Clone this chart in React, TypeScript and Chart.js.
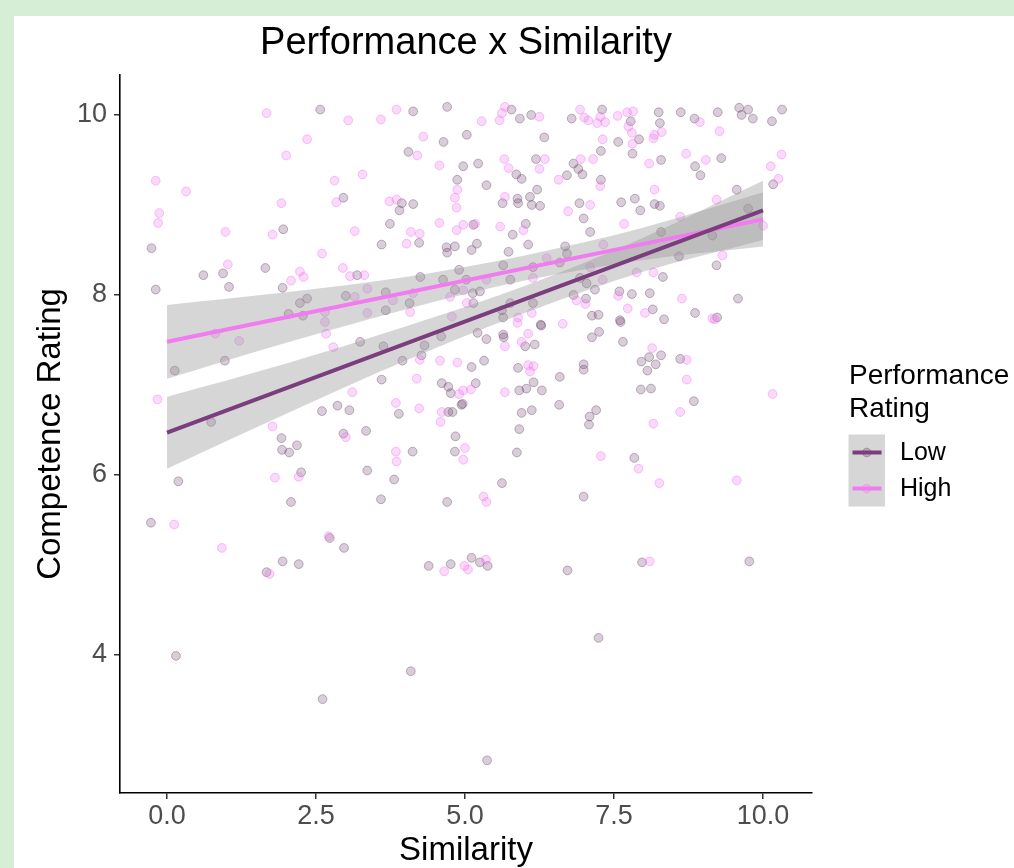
import { useEffect, useRef } from 'react';
import { Chart, registerables } from 'chart.js';
Chart.register(...registerables);

const TITLE = 'Performance x Similarity';
const X_LABEL = 'Similarity';
const Y_LABEL = 'Competence Rating';
const LEGEND_TITLE = ['Performance', 'Rating'];
const GROUPS = ['Low', 'High'];
const X_TICKS = [0, 2.5, 5, 7.5, 10];
const Y_TICKS = [4, 6, 8, 10];

const lowPoints: number[][] = [
  [2.57,10.06],[4.13,10.04],[4.70,10.09],[5.03,9.78],[4.64,9.70],[4.05,9.59],[4.97,9.43],[4.87,9.28],[2.96,9.08],[3.94,9.02],
  [3.90,8.94],[4.13,9.01],[1.95,8.73],[3.74,8.79],[-0.26,8.52],[3.60,8.56],[4.23,8.58],[4.69,8.53],[4.70,8.47],[4.83,8.54],
  [0.61,8.22],[0.94,8.24],[1.65,8.30],[3.19,8.22],[-0.19,8.06],[1.04,8.09],[1.94,8.08],[4.25,8.20],[4.63,8.17],[4.90,8.28],
  [2.23,7.91],[2.35,7.96],[3.00,7.99],[3.67,8.03],[4.07,7.91],[4.83,8.06],[3.67,7.83],[2.04,7.79],[2.28,7.77],
  [0.13,7.16],[0.97,7.27],[3.24,7.48],[3.63,7.43],[4.32,7.44],[4.27,7.33],[3.95,7.27],[4.60,7.54],[0.74,6.59],[3.60,7.06],
  [2.60,6.71],[2.86,6.77],[3.06,6.72],[3.89,6.68],[4.61,7.02],[4.72,6.98],[4.76,6.91],[4.72,6.70],[4.79,6.70],[4.94,6.78],
  [4.84,6.43],[4.83,6.26],[1.92,6.41],[1.93,6.28],[2.05,6.25],[2.18,6.33],[2.96,6.46],[3.34,6.49],[4.12,6.26],[2.25,6.03],
  [3.36,6.05],[3.81,5.95],[0.19,5.93],[2.08,5.70],[3.59,5.73],[4.70,5.70],[-0.27,5.47],[2.73,5.30],[2.97,5.19],
  [1.94,5.04],[2.21,5.01],[1.67,4.92],[4.39,4.99],[4.76,5.01],[5.11,5.08],[5.25,5.03],[5.38,4.99],[6.72,4.94],[7.97,5.03],
  [9.77,5.04],[7.24,4.19],[0.15,3.99],[4.09,3.82],[2.61,3.51],[5.37,2.83],
  [5.78,10.06],[5.92,9.96],[6.11,10.00],[6.79,9.96],[7.30,10.06],[7.78,9.93],[8.27,9.91],[8.25,10.03],[8.62,10.03],[8.85,9.96],
  [9.24,10.03],[9.60,10.08],[9.75,10.06],[9.64,10.00],[9.83,9.96],[10.15,9.93],[10.32,10.06],[6.33,9.75],[7.28,9.60],[7.57,9.70],
  [7.92,9.73],[7.81,9.57],[8.29,9.50],[8.86,9.43],[8.95,9.33],[9.30,9.52],[10.17,9.23],[5.22,9.46],[5.86,9.34],[5.95,9.29],
  [6.19,9.51],[5.36,9.22],[6.71,9.33],[6.82,9.46],[6.90,9.40],[6.97,9.34],[7.28,9.28],[6.21,9.17],[5.63,9.02],[5.88,9.07],
  [5.89,9.02],[6.09,9.09],[6.12,9.00],[6.26,8.99],[6.02,8.79],[5.80,8.67],[5.14,8.78],[5.20,8.57],[5.11,8.50],[5.73,8.48],
  [6.06,8.56],[5.64,8.33],[5.76,8.17],[6.14,8.31],[6.68,8.54],[6.71,8.46],[6.99,8.85],[6.92,9.02],[7.10,8.70],[7.62,9.03],
  [7.85,9.07],[7.94,8.94],[8.18,9.01],[8.27,8.99],[8.29,8.70],[9.56,9.17],[9.75,8.96],[9.15,8.66],[9.22,8.33],[8.59,8.43],
  [8.32,8.20],[8.10,8.02],[7.80,8.01],[7.59,8.04],[8.86,7.80],[9.23,7.75],[9.58,7.96],[8.15,7.84],[7.04,8.13],[7.18,8.06],
  [6.82,8.00],[7.03,7.96],[6.93,8.19],[7.13,7.77],[7.24,7.78],[7.60,7.72],[6.59,8.36],[5.76,7.91],[5.62,7.83],[5.64,7.75],
  [6.27,7.67],[5.25,8.04],[5.13,8.02],[5.14,7.91],[5.02,8.17],
  [6.14,7.91],[8.34,7.73],[5.21,7.58],[5.36,7.51],[5.64,7.56],[5.65,7.53],[6.28,7.66],[6.01,7.43],[6.17,7.45],[7.13,7.53],
  [7.25,7.59],[7.61,7.70],[7.65,7.48],[5.11,7.20],[5.32,7.27],[5.89,7.19],[6.59,7.09],[6.99,7.23],[6.99,7.17],[7.96,7.26],
  [8.09,7.31],[8.20,7.23],[8.29,7.33],[8.06,7.16],[8.61,7.29],[8.84,6.82],[5.18,7.02],[5.91,6.94],[6.03,6.96],[6.15,7.03],
  [6.29,6.94],[4.96,6.79],[7.95,6.95],[8.12,6.96],[5.95,6.69],[6.12,6.72],[6.58,6.78],[7.20,6.72],[7.09,6.65],[7.08,6.56],
  [5.91,6.51],[5.87,6.25],[7.84,6.19],[5.62,5.91],[6.99,5.76]
];

const highPoints: number[][] = [
  [1.67,10.02],[3.04,9.94],[3.59,9.95],[3.85,10.06],[2.35,9.73],[4.30,9.76],[2.00,9.55],[4.20,9.55],[4.57,9.44],[-0.19,9.27],
  [0.32,9.15],[2.81,9.27],[3.28,9.34],[4.87,9.17],[4.83,9.08],[4.86,8.97],[-0.13,8.91],[-0.15,8.80],[1.92,9.02],[2.84,9.03],
  [3.73,9.04],[3.85,9.06],[0.98,8.70],[1.77,8.67],[3.15,8.71],[4.09,8.70],[4.24,8.68],[4.57,8.80],[4.86,8.72],[4.97,8.78],
  [4.02,8.57],[2.60,8.46],[1.02,8.34],[2.23,8.26],[2.29,8.20],[2.08,8.16],[2.95,8.30],[3.07,8.21],[3.31,8.22],[3.36,8.07],
  [3.15,7.98],[3.79,7.94],[4.13,8.02],[4.75,7.98],[4.08,7.81],[3.36,7.80],[2.65,7.81],[4.78,7.76],
  [1.21,7.49],[0.81,7.57],[2.65,7.70],[2.67,7.57],[2.79,7.42],[4.24,7.28],[5.03,7.91],[-0.16,6.84],[3.11,6.92],[3.84,6.80],
  [4.19,7.07],[4.23,6.74],[4.58,7.27],[4.87,7.25],[4.90,6.90],[4.97,6.94],[4.61,6.70],[4.59,6.59],[5.00,6.30],[4.97,6.17],
  [1.77,6.54],[3.00,6.42],[3.84,6.26],[3.85,6.15],[1.81,5.97],[2.21,5.98],[0.12,5.45],[2.71,5.32],[0.92,5.19],
  [1.72,4.90],[4.65,4.93],[4.99,4.99],[5.05,4.95],[5.35,5.06],[8.10,5.04],
  [5.67,10.09],[5.62,10.02],[5.58,9.94],[6.25,9.98],[5.28,9.93],[6.93,10.06],[7.00,9.97],[7.07,9.94],[7.27,9.98],[7.22,9.91],
  [7.35,9.92],[7.56,9.99],[7.72,10.03],[7.82,10.04],[7.74,9.87],[8.30,9.81],[8.94,9.92],[9.27,9.82],[7.31,9.73],[7.80,9.80],
  [7.81,9.68],[8.18,9.78],[8.16,9.74],[8.09,9.46],[8.71,9.57],[9.04,9.50],[10.31,9.56],[10.13,9.43],[10.26,9.29],[5.66,9.51],
  [5.73,9.41],[6.34,9.51],[6.25,9.40],[6.57,9.28],[6.94,9.51],[7.15,9.51],[7.27,9.21],[6.73,8.93],[5.67,9.09],[5.98,8.72],
  [5.59,8.76],[5.17,8.79],[6.37,8.41],[6.14,8.19],[7.10,9.00],[7.32,8.56],[8.18,9.17],[7.67,8.79],[9.22,9.06],[10.00,8.77],
  [9.32,8.44],[8.16,8.25],[7.57,7.99],[8.64,7.96],[9.15,7.74],[8.02,7.80],[7.73,7.85],[7.88,8.25],[7.10,8.31],[7.31,8.17],
  [6.87,7.94],[5.89,7.75],[6.12,7.80],[4.97,8.05],[5.36,8.17],[8.61,8.87],
  [7.02,7.90],[9.19,7.73],[5.67,7.43],[5.88,7.69],[6.06,7.57],[5.95,7.48],[6.64,7.68],[8.14,7.41],[6.06,7.22],[6.15,7.21],
  [6.09,7.15],[8.72,7.28],[8.72,7.06],[8.61,6.70],[10.16,6.90],[5.10,6.95],[5.67,6.92],[8.16,6.57],[7.28,6.21],[7.91,6.07],
  [8.26,5.91],[9.56,5.94],[5.31,5.76],[5.36,5.70]
];

const FIT_X = [0, 10];
const lowFit = [6.47, 8.94];
const highFit = [7.48, 8.84];

const BAND_X = [0, 2, 4, 6, 8, 10];
const lowUpper = [6.87, 7.24, 7.65, 8.10, 8.64, 9.27];
const lowLower = [6.07, 6.68, 7.27, 7.80, 8.26, 8.61];
const highUpper = [7.89, 8.03, 8.20, 8.44, 8.75, 9.14];
const highLower = [7.07, 7.47, 7.84, 8.16, 8.39, 8.54];

const FONT = '"Liberation Sans", Arial, Helvetica, sans-serif';
const LOW_LINE = '#7b3d7d';
const HIGH_LINE = '#f17cf1';
const LOW_FILL = 'rgba(110,70,110,0.27)';
const LOW_EDGE = 'rgba(100,62,100,0.38)';
const HIGH_FILL = 'rgba(238,130,238,0.30)';
const HIGH_EDGE = 'rgba(238,120,238,0.42)';
const BAND = 'rgba(153,153,153,0.4)';

const toXY = (xs: number[], ys: number[]) => xs.map((x, i) => ({ x, y: ys[i] }));
const pairs = (p: number[][]) => p.map(([x, y]) => ({ x, y }));

const overlay = {
  id: 'overlay',
  afterDraw(chart: any) {
    const { ctx, chartArea } = chart;
    ctx.save();
    ctx.fillStyle = '#000';
    ctx.textAlign = 'center';
    ctx.textBaseline = 'middle';
    ctx.font = `38px ${FONT}`;
    ctx.fillText(TITLE, (chartArea.left + chartArea.right) / 2, 28);

    ctx.textAlign = 'left';
    ctx.font = `28px ${FONT}`;
    ctx.fillText(LEGEND_TITLE[0], 835, 360);
    ctx.fillText(LEGEND_TITLE[1], 835, 393);

    ctx.fillStyle = BAND;
    ctx.fillRect(834.5, 418.5, 36.5, 72);
    const keys = [
      { y: 436.5, line: LOW_LINE, fill: LOW_FILL, edge: LOW_EDGE },
      { y: 472.5, line: HIGH_LINE, fill: HIGH_FILL, edge: HIGH_EDGE },
    ];
    keys.forEach((k, i) => {
      ctx.beginPath();
      ctx.arc(852.75, k.y, 4.3, 0, Math.PI * 2);
      ctx.fillStyle = k.fill;
      ctx.fill();
      ctx.strokeStyle = k.edge;
      ctx.lineWidth = 1;
      ctx.stroke();
      ctx.beginPath();
      ctx.moveTo(838.5, k.y);
      ctx.lineTo(867.5, k.y);
      ctx.strokeStyle = k.line;
      ctx.lineWidth = 4;
      ctx.stroke();
      ctx.fillStyle = '#000';
      ctx.font = `25px ${FONT}`;
      ctx.textBaseline = 'middle';
      ctx.fillText(GROUPS[i], 886, k.y + 0.5);
    });
    ctx.restore();
  },
};

export default function App() {
  const ref = useRef<HTMLCanvasElement>(null);
  useEffect(() => {
    if (!ref.current) return;
    Chart.defaults.font.family = FONT;
    const lineDs = (label: string, ys: number[], color: string) => ({
      type: 'line' as const,
      label,
      data: toXY(FIT_X, ys),
      borderColor: color,
      borderWidth: 4,
      pointRadius: 0,
      fill: false,
      order: 0,
    });
    const bandDs = (label: string, ys: number[], fill: any) => ({
      type: 'line' as const,
      label,
      data: toXY(BAND_X, ys),
      borderColor: 'rgba(0,0,0,0)',
      borderWidth: 1,
      backgroundColor: BAND,
      pointRadius: 0,
      cubicInterpolationMode: 'monotone' as const,
      fill,
      order: 1,
    });
    const chart = new Chart(ref.current, {
      type: 'scatter',
      data: {
        datasets: [
          lineDs('Low fit', lowFit, LOW_LINE),
          lineDs('High fit', highFit, HIGH_LINE),
          bandDs('Low upper', lowUpper, '+1'),
          bandDs('Low lower', lowLower, false),
          bandDs('High upper', highUpper, '+1'),
          bandDs('High lower', highLower, false),
          {
            label: 'Low',
            data: pairs(lowPoints),
            backgroundColor: LOW_FILL,
            borderColor: LOW_EDGE,
            borderWidth: 1,
            pointRadius: 4.4,
            order: 3,
          } as any,
          {
            label: 'High',
            data: pairs(highPoints),
            backgroundColor: HIGH_FILL,
            borderColor: HIGH_EDGE,
            borderWidth: 1,
            pointRadius: 4.4,
            order: 2,
          } as any,
        ],
      },
      options: {
        animation: false,
        responsive: false,
        devicePixelRatio: 1,
        layout: { padding: { top: 59, right: 202, bottom: 0, left: 0 } },
        plugins: { legend: { display: false }, tooltip: { enabled: false }, title: { display: false } },
        scales: {
          x: {
            type: 'linear',
            min: -0.789,
            max: 10.822,
            afterBuildTicks: (s: any) => { s.ticks = X_TICKS.map((v) => ({ value: v })); },
            afterFit: (s: any) => { s.height = 75; },
            ticks: {
              callback: (v: any) => Number(v).toFixed(1),
              font: { size: 27 },
              color: '#4d4d4d',
              padding: 1,
              autoSkip: false,
              maxRotation: 0,
            },
            grid: { display: true, drawOnChartArea: false, drawTicks: true, tickLength: 6, color: '#333', lineWidth: 1.5 },
            border: { display: true, color: '#000', width: 1.6 },
            title: { display: true, text: X_LABEL, font: { size: 33, lineHeight: 1.1 }, color: '#000', padding: { top: 0, bottom: -1 } },
          },
          y: {
            type: 'linear',
            min: 2.467,
            max: 10.444,
            afterBuildTicks: (s: any) => { s.ticks = Y_TICKS.map((v) => ({ value: v })); },
            afterFit: (s: any) => { s.width = 106; },
            ticks: {
              callback: (v: any) => String(v),
              font: { size: 27 },
              color: '#4d4d4d',
              padding: 7,
              autoSkip: false,
            },
            grid: { display: true, drawOnChartArea: false, drawTicks: true, tickLength: 6, color: '#333', lineWidth: 1.5 },
            border: { display: true, color: '#000', width: 1.6 },
            title: { display: true, text: Y_LABEL, font: { size: 33, lineHeight: 1.1 }, color: '#000', padding: { top: 19, bottom: 0 } },
          },
        },
      } as any,
      plugins: [overlay],
    });
    return () => chart.destroy();
  }, []);

  return (
    <div style={{ position: 'absolute', left: 0, top: 0, width: 1014, height: 868, background: '#d6eed6', overflow: 'hidden' }}>
      <div style={{ position: 'absolute', left: 14, top: 16, width: 1000, height: 852, background: '#fff' }}>
        <canvas ref={ref} width={1000} height={852} style={{ display: 'block', width: 1000, height: 852 }} />
      </div>
    </div>
  );
}
